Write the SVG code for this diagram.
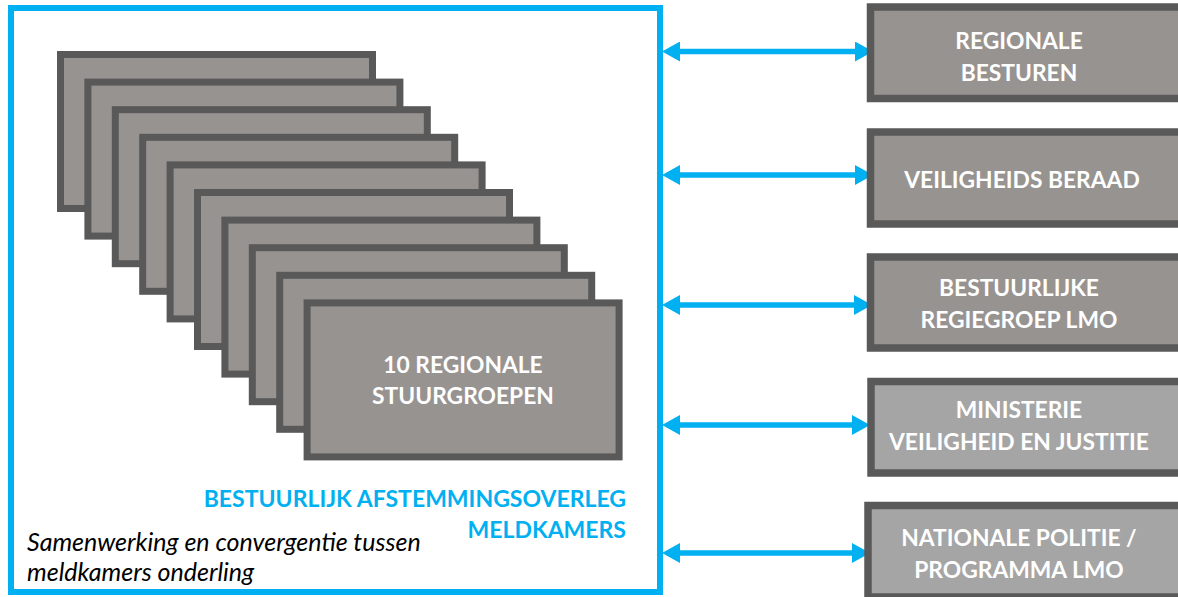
<svg xmlns="http://www.w3.org/2000/svg" width="1178" height="597" viewBox="0 0 1178 597">
  <defs>
    <style>
      .card { fill: #979391; stroke: #595959; stroke-width: 7; }
      .box { fill: #979391; stroke: #595959; stroke-width: 7.5; }
      .box.light { fill: #a5a5a5; }
      .frame { fill: #ffffff; stroke: #00b0f0; stroke-width: 6; }
      .lbl { font-family: Lato, "Liberation Sans", sans-serif; font-weight: bold; font-size: 22.8px; fill: #ffffff; text-anchor: middle; }
      .blue { font-family: Lato, "Liberation Sans", sans-serif; font-weight: bold; font-size: 23px; fill: #00b0f0; text-anchor: end; }
      .ital { font-family: Lato, "Liberation Sans", sans-serif; font-style: italic; font-size: 25px; fill: #000000; }
      .conn { stroke: #00b0f0; stroke-width: 5.5; fill: none; marker-start: url(#head); marker-end: url(#head); }
    </style>
    <marker id="head" markerUnits="userSpaceOnUse" markerWidth="18" markerHeight="20" refX="3" refY="10" orient="auto-start-reverse" viewBox="0 0 18 20">
      <path d="M0,0 L18,10 L0,20 z" fill="#00b0f0"/>
    </marker>
  </defs>

  <g id="frame">
    <rect class="frame" x="11" y="8" width="649" height="584"/>
    <text class="blue" x="626" y="507">BESTUURLIJK AFSTEMMINGSOVERLEG</text>
    <text class="blue" x="626" y="538">MELDKAMERS</text>
    <text class="ital" x="27" y="551">Samenwerking en convergentie tussen</text>
    <text class="ital" x="27" y="581">meldkamers onderling</text>
  </g>

  <g id="stuurgroepen">
    <rect class="card" x="60.5" y="54.5" width="312" height="154"/>
    <rect class="card" x="87.9" y="82.1" width="312" height="154"/>
    <rect class="card" x="115.3" y="109.7" width="312" height="154"/>
    <rect class="card" x="142.7" y="137.3" width="312" height="154"/>
    <rect class="card" x="170.1" y="164.9" width="312" height="154"/>
    <rect class="card" x="197.5" y="192.5" width="312" height="154"/>
    <rect class="card" x="224.9" y="220.1" width="312" height="154"/>
    <rect class="card" x="252.3" y="247.7" width="312" height="154"/>
    <rect class="card" x="279.7" y="275.3" width="312" height="154"/>
    <rect class="card" x="307.1" y="302.9" width="312" height="154"/>
    <text class="lbl" x="463" y="373">10 REGIONALE</text>
    <text class="lbl" x="463" y="404">STUURGROEPEN</text>
  </g>

  <g id="connectors">
    <line class="conn" x1="677" y1="51.5" x2="858" y2="51.5"/>
    <line class="conn" x1="677" y1="175" x2="858" y2="175"/>
    <line class="conn" x1="677" y1="305" x2="857" y2="305"/>
    <line class="conn" x1="677" y1="425" x2="855" y2="425"/>
    <line class="conn" x1="677" y1="553" x2="855" y2="553"/>
  </g>

  <g id="regionale-besturen">
    <rect class="box" x="870.5" y="7" width="320" height="91.5"/>
    <text class="lbl" x="1019" y="49.3">REGIONALE</text>
    <text class="lbl" x="1019" y="80.7">BESTUREN</text>
  </g>
  <g id="veiligheidsberaad">
    <rect class="box" x="870.5" y="132" width="320" height="92"/>
    <text class="lbl" x="1022" y="188.3">VEILIGHEIDS BERAAD</text>
  </g>
  <g id="regiegroep">
    <rect class="box" x="870.5" y="257" width="320" height="91"/>
    <text class="lbl" x="1019" y="296">BESTUURLIJKE</text>
    <text class="lbl" x="1019" y="327.7">REGIEGROEP LMO</text>
  </g>
  <g id="ministerie">
    <rect class="box light" x="871" y="381.5" width="320" height="91.5"/>
    <text class="lbl" x="1019" y="418.3">MINISTERIE</text>
    <text class="lbl" x="1019" y="450">VEILIGHEID EN JUSTITIE</text>
  </g>
  <g id="nationale-politie">
    <rect class="box light" x="868" y="505.5" width="320" height="91.5"/>
    <text class="lbl" x="1019" y="545.7">NATIONALE POLITIE /</text>
    <text class="lbl" x="1019" y="577.7">PROGRAMMA LMO</text>
  </g>
</svg>
